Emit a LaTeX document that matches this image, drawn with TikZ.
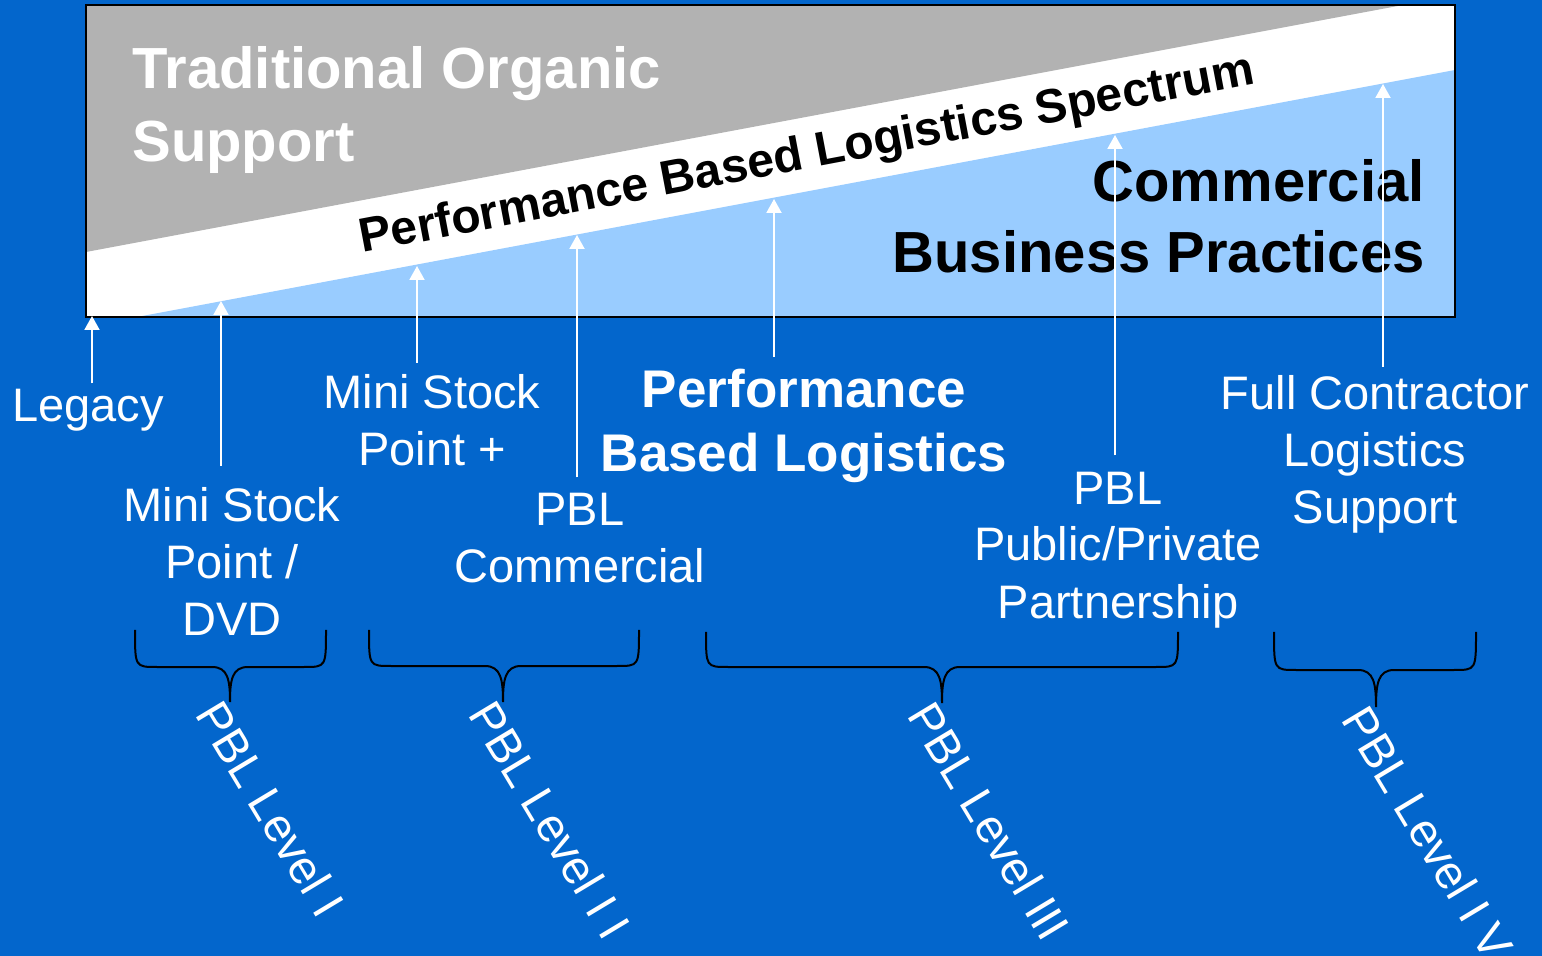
\documentclass[tikz,border=0pt]{standalone}
\usepackage{fontspec}
\setmainfont{Liberation Sans}
\usetikzlibrary{arrows.meta}

\definecolor{slideblue}{RGB}{3,102,204}
\definecolor{skyblue}{RGB}{153,204,255}
\definecolor{organic}{RGB}{178,178,178}

\begin{document}
\begin{tikzpicture}[x=0.5pt, y=-0.5pt,
    lbl/.style={text=white, align=center, inner sep=2pt, anchor=base, font=\fontsize{23.5}{28.5}\selectfont},
    big/.style={font=\bfseries\fontsize{29}{35.5}\selectfont, inner sep=0pt},
    up/.style={draw=white, line width=1pt, -{Triangle[width=7.5pt,length=7pt]}},
    brace/.style={draw=black, line width=1pt},
    level/.style={text=white, rotate=-59, anchor=base west, inner sep=0pt, font=\fontsize{23.5}{28}\selectfont}]

  % slide and spectrum box
  \fill[slideblue] (0,0) rectangle (1542,956);
  \useasboundingbox (0,0) rectangle (1542,956);
  \fill[white] (86,5) rectangle (1455,317);
  \fill[organic] (86,5) -- (1403,5) -- (86,252) -- cycle;
  \fill[skyblue] (137,317) -- (1455,70) -- (1455,317) -- cycle;
  \draw[black, line width=0.75pt] (86,5) rectangle (1455,317);

  % base anchors sit on the last line
  \node[big, text=white, align=left, anchor=base west, font=\bfseries\fontsize{29}{36.5}\selectfont] (organic) at (132,162) {Traditional Organic\\Support};
  \node[big, align=right, anchor=base east] (commercial) at (1425,273) {Commercial\\Business Practices};
  \node[font=\bfseries\fontsize{24}{28}\selectfont, rotate=10.7, anchor=base west, inner sep=0pt] (spectrum) at (362,253) {Performance Based Logistics Spectrum};

  % points on the spectrum
  \coordinate (t0) at (92,316);
  \coordinate (t1) at (221,301);
  \coordinate (t2) at (417,266);
  \coordinate (t3) at (577,235);
  \coordinate (t4) at (774,199);
  \coordinate (t5) at (1115,135);
  \coordinate (t6) at (1383,84);

  \node[lbl] (legacy) at (88,422) {Legacy};
  \node[lbl] (dvd) at (232,636) {Mini Stock\\Point /\\DVD};
  \node[lbl] (plus) at (432,466) {Mini Stock\\Point +};
  \node[lbl] (pblcom) at (580,583) {PBL\\Commercial};
  \node[lbl, font=\bfseries\fontsize{26.5}{32}\selectfont] (pbl) at (804,472) {Performance\\Based Logistics};
  \node[lbl] (ppp) at (1118,618) {PBL\\Public/Private\\Partnership};
  \node[lbl] (contractor) at (1375,524) {Full Contractor\\Logistics\\Support};

  \draw[up] ([yshift=1pt]legacy.north -| t0) -- (t0);
  \draw[up] ([yshift=9pt]dvd.north -| t1) -- (t1);
  \draw[up] ([yshift=4pt]plus.north -| t2) -- (t2);
  \draw[up] ([yshift=6pt]pblcom.north -| t3) -- (t3);
  \draw[up] ([yshift=4pt]pbl.north -| t4) -- (t4);
  \draw[up] ([yshift=6pt]ppp.north -| t5) -- (t5);
  \draw[up] ([yshift=2.5pt]contractor.north -| t6) -- (t6);

  % level braces
  \coordinate (b1) at (230,702);
  \coordinate (b2) at (503,702);
  \coordinate (b3) at (942,703);
  \coordinate (b4) at (1376,707);

  \draw[brace] (135,630) .. controls (135,667) .. (157,667) -- (212,667)
    .. controls (228,667) and (230,680) .. (b1) .. controls (230,680) and (232,667) .. (248,667)
    -- (304,667) .. controls (326,667) .. (326,630);
  \draw[brace] (369,630) .. controls (369,666) .. (391,666) -- (485,666)
    .. controls (501,666) and (503,680) .. (b2) .. controls (503,680) and (505,666) .. (521,666)
    -- (617,666) .. controls (639,666) .. (639,630);
  \draw[brace] (706,632) .. controls (706,667) .. (728,667) -- (924,667)
    .. controls (940,667) and (942,681) .. (b3) .. controls (942,681) and (944,667) .. (960,667)
    -- (1156,667) .. controls (1178,667) .. (1178,632);
  \draw[brace] (1274,632) .. controls (1274,670) .. (1296,670) -- (1358,670)
    .. controls (1374,670) and (1376,684) .. (b4) .. controls (1376,684) and (1378,670) .. (1394,670)
    -- (1454,670) .. controls (1476,670) .. (1476,632);

  \node[level] (lvl1) at ([xshift=-18pt,yshift=-6pt]b1) {PBL Level I};
  \node[level] (lvl2) at ([xshift=-18pt,yshift=-6pt]b2) {PBL Level I I};
  \node[level] (lvl3) at ([xshift=-18pt,yshift=-6pt]b3) {PBL Level III};
  \node[level] (lvl4) at ([xshift=-18pt,yshift=-6pt]b4) {PBL Level I V};
\end{tikzpicture}
\end{document}
